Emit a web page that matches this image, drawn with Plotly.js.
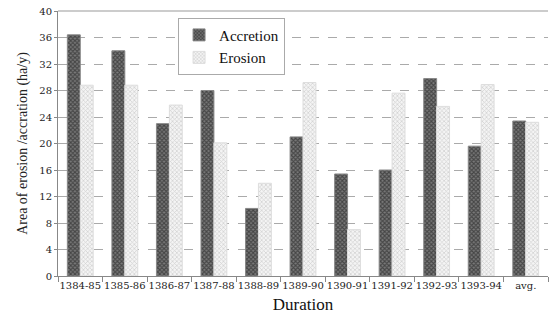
<!DOCTYPE html>
<html><head><meta charset="utf-8">
<script src="https://cdn.plot.ly/plotly-3.0.1.min.js"></script>
<style>html,body{margin:0;padding:0;background:#fff}</style>
</head><body><div id="chart" style="width:550px;height:319px"></div>
<script>
const categories = ["1384-85","1385-86","1386-87","1387-88","1388-89","1389-90","1390-91","1391-92","1392-93","1393-94","avg."];
const accretion = [36.4, 34.0, 23.0, 28.0, 10.2, 21.0, 15.4, 16.0, 29.8, 19.6, 23.4];
const erosion   = [28.8, 28.8, 25.8, 20.1, 14.0, 29.2, 7.0, 27.6, 25.6, 28.9, 23.2];
const yTicks = [0,4,8,12,16,20,24,28,32,36,40];

const serif = "Liberation Serif, DejaVu Serif, serif";
const wide = "DejaVu Serif, serif";
const data = [
  {type:'bar', name:'Accretion', x:categories, y:accretion,
   marker:{color:'#4a4a4a', line:{color:'#888', width:1},
           pattern:{shape:'x', fgcolor:'#111', bgcolor:'#7a7a7a', size:3, solidity:0.6, fillmode:'overlay'}}},
  {type:'bar', name:'Erosion', x:categories, y:erosion,
   marker:{color:'#ffffff', line:{color:'#ddd', width:1},
           pattern:{shape:'x', fgcolor:'#aaa', bgcolor:'#f4f4f4', size:3, solidity:0.4, fillmode:'overlay'}}}
];
const layout = {
  width:550, height:319,
  margin:{l:58, r:2, t:11, b:43},
  paper_bgcolor:'#fff', plot_bgcolor:'#fff',
  barmode:'group', bargap:0.42, bargroupgap:0,
  font:{family:serif, color:'#222'},
  xaxis:{type:'category', tickson:'boundaries', ticks:'outside', ticklen:5, tickcolor:'#888', tickangle:0,
         showline:true, linecolor:'#888', linewidth:1, showgrid:false,
         tickfont:{family:wide, size:10, color:'#222'},
         title:{text:'Duration', font:{family:serif, size:17, color:'#111'}, standoff:8}},
  yaxis:{range:[0,40], tickvals:yTicks, ticks:'outside', ticklen:3, tickcolor:'#888',
         showline:true, linecolor:'#888', linewidth:1,
         showgrid:true, gridcolor:'#aaa', griddash:'dash', gridwidth:1, zeroline:false,
         tickfont:{family:wide, size:10, color:'#222'},
         title:{text:'Area of erosion /accration (ha/y)', font:{family:serif, size:14, color:'#222'}, standoff:8}},
  legend:{x:0.245, y:0.975, xanchor:'left', yanchor:'top', bgcolor:'#fff', bordercolor:'#aaa', borderwidth:1,
          font:{family:serif, size:15, color:'#111'}, tracegroupgap:0, itemwidth:30},
  shapes:[{type:'line', xref:'paper', yref:'paper', x0:0, x1:1, y0:1, y1:1, line:{color:'#999', width:1}}],
  showlegend:true
};
Plotly.newPlot('chart', data, layout, {displayModeBar:false, staticPlot:true});
</script></body></html>
